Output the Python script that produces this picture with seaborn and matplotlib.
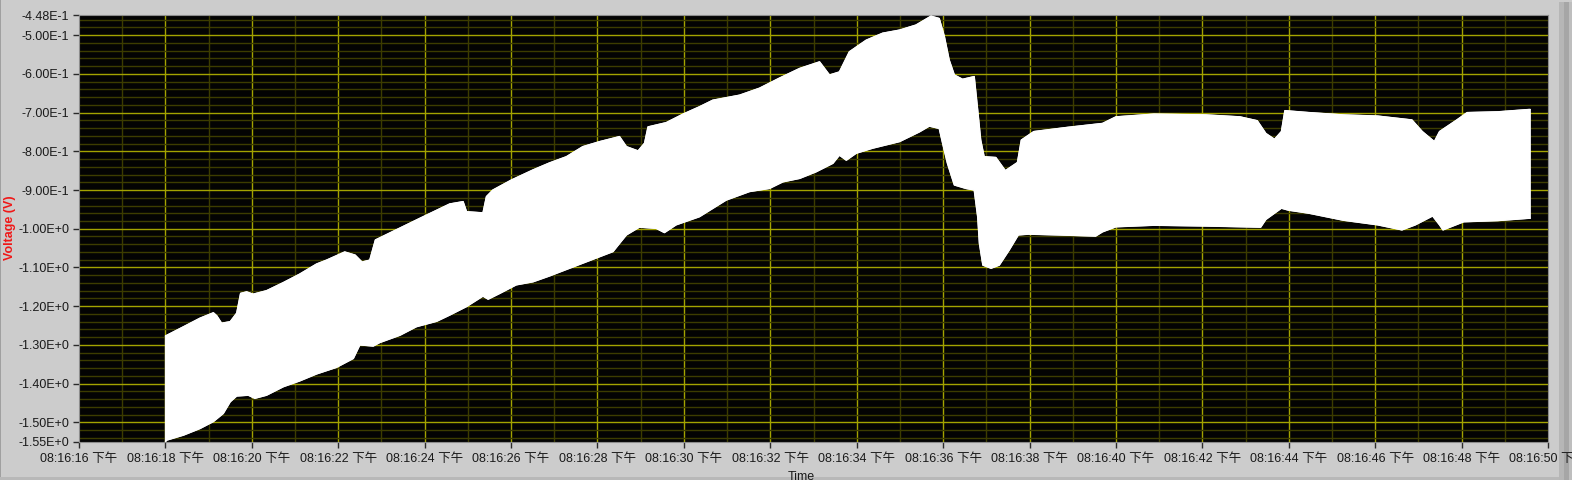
import numpy as np
import matplotlib
matplotlib.use("Agg")
import matplotlib.pyplot as plt
from matplotlib.patches import Rectangle
from matplotlib.ticker import MultipleLocator, FixedLocator
import seaborn as sns
import pandas as pd

# time axis: seconds of 08:16:xx (PM)
upper_t = [18.00, 18.42, 18.80, 19.11, 19.19, 19.30, 19.50, 19.65, 19.74, 19.88,
           20.03, 20.34, 20.73, 21.11, 21.50, 21.73, 22.15, 22.39, 22.55, 22.73,
           22.86, 23.89, 24.58, 24.89, 24.97, 25.35, 25.43, 25.58, 26.01, 26.51,
           26.89, 27.28, 27.66, 28.05, 28.51, 28.67, 28.94, 29.09, 29.17, 29.59,
           29.98, 30.36, 30.67, 31.29, 31.75, 32.21, 32.68, 33.14, 33.37, 33.60,
           33.83, 34.22, 34.60, 34.99, 35.37, 35.72, 35.91, 36.03, 36.14, 36.26,
           36.45, 36.72, 36.80, 36.87, 36.95, 37.22, 37.44, 37.72, 37.81, 38.10,
           38.89, 39.69, 40.00, 40.88, 42.08, 42.87, 43.27, 43.47, 43.67, 43.83,
           43.91, 44.47, 45.26, 46.06, 46.85, 47.09, 47.37, 47.49, 47.89, 48.13,
           48.84, 49.56, 49.59]
upper_v = [-1.277, -1.253, -1.231, -1.217, -1.225, -1.244, -1.240, -1.218, -1.167, -1.163,
           -1.169, -1.160, -1.139, -1.117, -1.091, -1.081, -1.060, -1.068, -1.086, -1.081,
           -1.029, -0.973, -0.936, -0.930, -0.956, -0.959, -0.917, -0.900, -0.874, -0.848,
           -0.830, -0.814, -0.788, -0.775, -0.762, -0.788, -0.799, -0.779, -0.737, -0.726,
           -0.704, -0.685, -0.668, -0.655, -0.637, -0.611, -0.586, -0.569, -0.603, -0.595,
           -0.543, -0.513, -0.495, -0.487, -0.474, -0.451, -0.457, -0.504, -0.564, -0.603,
           -0.614, -0.607, -0.693, -0.771, -0.814, -0.816, -0.850, -0.829, -0.771, -0.749,
           -0.738, -0.728, -0.711, -0.704, -0.706, -0.711, -0.721, -0.754, -0.769, -0.749,
           -0.695, -0.700, -0.706, -0.709, -0.719, -0.749, -0.775, -0.749, -0.719, -0.700,
           -0.698, -0.692, -0.692]

lower_t = [18.00, 18.03, 18.42, 18.80, 19.11, 19.34, 19.50, 19.65, 19.92, 20.07,
           20.34, 20.73, 21.11, 21.50, 21.96, 22.35, 22.50, 22.81, 22.96, 23.43,
           23.81, 24.28, 24.58, 24.97, 25.35, 25.47, 25.74, 26.12, 26.51, 26.89,
           27.66, 28.36, 28.51, 28.67, 28.97, 29.36, 29.55, 29.82, 30.36, 30.98,
           31.52, 31.98, 32.29, 32.68, 33.06, 33.45, 33.60, 33.76, 33.99, 34.37,
           34.99, 35.45, 35.68, 35.91, 35.99, 36.10, 36.26, 36.53, 36.72, 36.80,
           36.84, 36.92, 37.11, 37.30, 37.53, 37.74, 37.98, 38.65, 39.53, 39.69,
           40.00, 40.88, 42.08, 43.35, 43.47, 43.83, 43.99, 44.47, 45.26, 46.06,
           46.62, 46.93, 47.33, 47.49, 47.57, 48.05, 48.84, 49.56, 49.59]
lower_v = [-1.550, -1.546, -1.533, -1.516, -1.498, -1.477, -1.447, -1.432, -1.430, -1.438,
           -1.430, -1.408, -1.393, -1.375, -1.358, -1.335, -1.300, -1.303, -1.294, -1.275,
           -1.253, -1.239, -1.223, -1.201, -1.174, -1.182, -1.167, -1.145, -1.137, -1.122,
           -1.089, -1.059, -1.038, -1.016, -0.996, -0.999, -1.010, -0.990, -0.969, -0.926,
           -0.904, -0.896, -0.879, -0.870, -0.853, -0.831, -0.810, -0.823, -0.805, -0.792,
           -0.775, -0.750, -0.735, -0.741, -0.780, -0.831, -0.887, -0.896, -0.900, -0.969,
           -1.038, -1.094, -1.102, -1.094, -1.055, -1.016, -1.014, -1.016, -1.019, -1.008,
           -0.995, -0.991, -0.993, -0.996, -0.976, -0.947, -0.952, -0.960, -0.978, -0.990,
           -1.003, -0.990, -0.967, -0.990, -1.003, -0.982, -0.979, -0.973, -0.973]

x_ticks = [16, 18, 20, 22, 24, 26, 28, 30, 32, 34, 36, 38, 40, 42, 44, 46, 48, 50]
x_labels = ["08:16:16 下午", "08:16:18 下午", "08:16:20 下午", "08:16:22 下午",
            "08:16:24 下午", "08:16:26 下午", "08:16:28 下午", "08:16:30 下午",
            "08:16:32 下午", "08:16:34 下午", "08:16:36 下午", "08:16:38 下午",
            "08:16:40 下午", "08:16:42 下午", "08:16:44 下午", "08:16:46 下午",
            "08:16:48 下午", "08:16:50 下午"]
y_ticks = [-0.448, -0.5, -0.6, -0.7, -0.8, -0.9, -1.0, -1.1, -1.2, -1.3, -1.4, -1.5, -1.55]
y_labels = ["-4.48E-1", "-5.00E-1", "-6.00E-1", "-7.00E-1", "-8.00E-1", "-9.00E-1",
            "-1.00E+0", "-1.10E+0", "-1.20E+0", "-1.30E+0", "-1.40E+0", "-1.50E+0", "-1.55E+0"]

BG = "#cccccc"
sns.set_theme(style="ticks", rc={
    "axes.facecolor": "#030303",
    "figure.facecolor": BG,
    "axes.edgecolor": "#8c8c8c",
    "xtick.color": "#2a2a2a",
    "ytick.color": "#2a2a2a",
    "xtick.labelcolor": "#1a1a1a",
    "ytick.labelcolor": "#1a1a1a",
})
plt.rcParams["font.family"] = ["Liberation Sans", "Noto Sans CJK SC", "DejaVu Sans"]

W, H = 1572, 480
fig = plt.figure(figsize=(W / 100, H / 100), dpi=100)
L, R, T, B = 79, 1548, 15, 441.7
ax = fig.add_axes([L / W, 1 - B / H, (R - L) / W, (B - T) / H])

up = pd.DataFrame({"t": upper_t, "v": upper_v})
lo = pd.DataFrame({"t": lower_t, "v": lower_v})
poly_t = np.concatenate([up["t"].values, lo["t"].values[::-1]])
poly_v = np.concatenate([up["v"].values, lo["v"].values[::-1]])
ax.fill(poly_t, poly_v, color="white", lw=0.8, ec="white", zorder=3)
sns.lineplot(data=up, x="t", y="v", ax=ax, color="white", lw=1, sort=False, zorder=4)
sns.lineplot(data=lo, x="t", y="v", ax=ax, color="white", lw=1, sort=False, zorder=4)

ax.set_xlim(16, 50)
ax.set_ylim(-1.55, -0.448)
ax.xaxis.set_major_locator(FixedLocator(x_ticks))
ax.set_xticklabels(x_labels)
ax.xaxis.set_minor_locator(MultipleLocator(1))
ax.yaxis.set_major_locator(FixedLocator(y_ticks))
ax.set_yticklabels(y_labels)
ax.yaxis.set_minor_locator(FixedLocator(list(np.round(np.arange(-1.54, -0.45, 0.02), 3))))
ax.set_axisbelow(True)
ax.grid(which="major", color="#a3a300", lw=1.0)
ax.grid(which="minor", color="#3c3c00", lw=1.0)
# hide grid at the range ends
for gl, yv in zip(ax.yaxis.get_gridlines(), y_ticks):
    if yv in (-0.448, -1.55):
        gl.set_visible(False)
for gl, xv in zip(ax.xaxis.get_gridlines(), x_ticks):
    if xv in (16, 50):
        gl.set_visible(False)
ax.tick_params(which="major", direction="out", length=4.5, width=1.0, labelsize=9, pad=2.5)
ax.tick_params(which="minor", length=0)
ax.tick_params(axis="x", pad=3.5)
ax.set_xlabel("")
ax.set_ylabel("")
for s in ax.spines.values():
    s.set_linewidth(0.8)
    s.set_color("#8c8c8c")

fig.text(10.5 / W, 1 - 228 / H, "Voltage (V)", rotation=90, color="#f01818",
         fontweight="bold", fontsize=9, ha="center", va="center")
fig.text(801 / W, 1 - 471 / H, "Time", ha="center", va="top", fontsize=9, color="#1a1a1a")

# window frame details
def frect(x0, y0, x1, y1, c):
    fig.add_artist(Rectangle((x0 / W, 1 - y1 / H), (x1 - x0) / W, (y1 - y0) / H,
                             transform=fig.transFigure, color=c, lw=0, zorder=-1))

frect(1559, 2, 1564, 480, "#b6b6b6")
frect(1564, 2, 1569, 480, "#a6a6a6")
frect(1569, 2, 1572, 480, "#bebebe")
frect(0, 0, 1, 480, "#a0a0a0")
frect(0, 477, 1559, 480, "#b8b8b8")

fig.savefig("out.png", dpi=100, facecolor=BG)
